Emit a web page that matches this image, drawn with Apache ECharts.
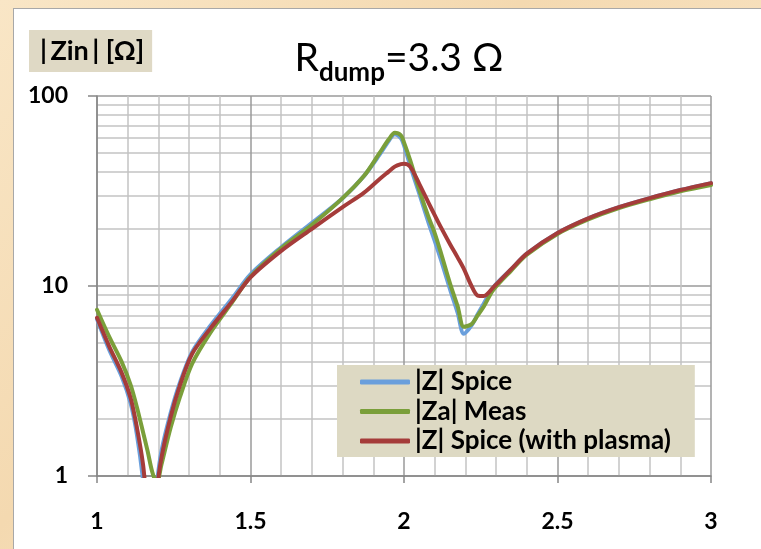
<!DOCTYPE html>
<html>
<head>
<meta charset="utf-8">
<script src="https://cdn.jsdelivr.net/npm/echarts@6/dist/echarts.min.js"></script>
<style>
html,body{margin:0;padding:0;width:761px;height:549px;overflow:hidden;
background:linear-gradient(135deg,#f9e6c6 0%,#f4d9b0 40%,#f8e3c2 70%,#f2d6ab 100%);}
#panel{position:absolute;left:13px;top:8px;width:748px;height:541px;background:#fff;
border-top:1.5px solid #a8a8a8;border-left:1.5px solid #a8a8a8;box-sizing:border-box;}
#chart{position:absolute;left:0;top:0;width:761px;height:549px;}
</style>
</head>
<body>
<div id="panel"></div>
<div id="chart"></div>
<script>
// frequency axis values
const freq = [1.0, 1.04, 1.08, 1.11, 1.13, 1.15, 1.165, 1.18, 1.195, 1.21, 1.24, 1.27, 1.31, 1.37, 1.44, 1.5, 1.6, 1.7, 1.8, 1.87, 1.92, 1.95, 1.97, 1.99, 2.0, 2.02, 2.05, 2.08, 2.1, 2.12, 2.15, 2.175, 2.195, 2.22, 2.24, 2.26, 2.29, 2.35, 2.4, 2.5, 2.6, 2.7, 2.8, 2.9, 3.0];
// |Z| Spice
const zSpice = [6.7, 4.6, 3.35, 2.4, 1.65, 0.95, 0.5, 0.45, 0.9, 1.35, 2.15, 3.1, 4.5, 6.2, 8.6, 11.5, 16, 21.5, 29, 38, 49, 58, 63, 60, 55, 43, 30.5, 21.5, 17.3, 13.8, 9.6, 7.2, 5.6, 6.2, 7.1, 8.1, 9.8, 12.3, 14.8, 19, 22.7, 26, 29, 32, 34.8];
// |Za| Meas
const zaMeas = [7.5, 5.4, 4.0, 3.0, 2.3, 1.7, 1.35, 1.05, 0.92, 1.15, 1.8, 2.6, 3.9, 5.7, 8.2, 11.2, 15.8, 21, 29, 38, 50, 59, 64, 62, 57, 46, 32, 23, 19, 15, 10.3, 7.8, 6.1, 6.3, 7.0, 7.8, 9.5, 12.1, 14.6, 18.8, 22.4, 25.7, 28.6, 31.5, 34];
// |Z| Spice (with plasma)
const zPlasma = [6.8, 4.8, 3.5, 2.55, 1.8, 1.15, 0.65, 0.5, 0.85, 1.25, 2.05, 3.0, 4.4, 6.0, 8.3, 11.1, 15.3, 20, 26, 31, 36.5, 40, 42.5, 43.8, 44, 42.5, 34.4, 27.4, 23.6, 20.4, 16.6, 14.1, 12.3, 10.0, 8.9, 8.85, 9.8, 12.3, 14.8, 19, 22.7, 26, 29, 32, 34.8];

const seriesNames = ['|Z| Spice', '|Za| Meas', '|Z| Spice (with plasma)'];
const seriesColors = ['#6a9fdc', '#7a9f3a', '#a53c3a'];
const seriesValues = [zSpice, zaMeas, zPlasma];

const FONT = 'Lato';
const chart = echarts.init(document.getElementById('chart'), null, {renderer: 'canvas'});
const option = {
  backgroundColor: 'transparent',
  animation: false,
  title: [
    {
      text: '{r|R}{s|dump}{t|=3.3 Ω}',
      left: 394, top: 29, textAlign: 'center',
      textStyle: {
        fontWeight: 'normal',
        rich: {
          r: {fontFamily: FONT, fontSize: 39, fontWeight: 'normal', color: '#000', verticalAlign: 'bottom', lineHeight: 44},
          s: {fontFamily: FONT, fontSize: 26, fontWeight: 'bold', color: '#000', verticalAlign: 'bottom', lineHeight: 28, padding: [0, 0, -8, 0]},
          t: {fontFamily: FONT, fontSize: 39, fontWeight: 'normal', color: '#000', verticalAlign: 'bottom', lineHeight: 44}
        }
      }
    },
    {
      text: '|\u2009Zin\u2009| [Ω]',
      left: 29, top: 30,
      backgroundColor: '#dfd9c5',
      padding: [7, 8, 7, 11],
      textStyle: {fontFamily: FONT, fontSize: 27, fontWeight: 'bold', color: '#000', lineHeight: 28}
    }
  ],
  grid: {left: 97, top: 96, right: 50, bottom: 73, containLabel: false},
  legend: {
    orient: 'vertical',
    left: 337, top: 365,
    backgroundColor: '#ddd9c3',
    padding: [4, 24, 3, 23],
    itemWidth: 50, itemHeight: 5, itemGap: 3.5,
    icon: 'roundRect',
    data: seriesNames,
    textStyle: {fontFamily: FONT, fontSize: 26, fontWeight: 'bold', color: '#000', lineHeight: 26}
  },
  xAxis: {
    type: 'value', min: 1, max: 3, interval: 0.5,
    axisLine: {show: true, lineStyle: {color: '#868686', width: 1.5}},
    axisTick: {show: true, length: 7, lineStyle: {color: '#868686', width: 1.5}},
    axisLabel: {margin: 34, fontFamily: FONT, fontSize: 23, fontWeight: 'bold', color: '#000',
      formatter: v => String(v)},
    splitLine: {show: true, lineStyle: {color: '#9a9a9a', width: 1.5}},
    minorTick: {show: false, splitNumber: 5},
    minorSplitLine: {show: true, lineStyle: {color: '#c4c4c4', width: 1.5}}
  },
  yAxis: {
    type: 'log', logBase: 10, min: 1, max: 100,
    axisLine: {show: true, lineStyle: {color: '#868686', width: 1.5}},
    axisTick: {show: true, length: 9, lineStyle: {color: '#868686', width: 1.5}},
    axisLabel: {margin: 29, align: 'right', fontFamily: FONT, fontSize: 23, fontWeight: 'bold', color: '#000'},
    splitLine: {show: true, lineStyle: {color: '#9a9a9a', width: 1.5}},
    minorTick: {show: false, splitNumber: 9},
    minorSplitLine: {show: true, lineStyle: {color: '#c4c4c4', width: 1.5}}
  },
  series: seriesNames.map((name, i) => ({
    name: name,
    type: 'line',
    data: freq.map((f, k) => [f, seriesValues[i][k]]),
    showSymbol: false,
    symbol: 'none',
    smooth: 0.3,
    clip: true,
    z: 2 + i,
    lineStyle: {color: seriesColors[i], width: 4, cap: 'round', join: 'round'},
    itemStyle: {color: seriesColors[i]}
  }))
};
chart.setOption(option);
</script>
</body>
</html>
